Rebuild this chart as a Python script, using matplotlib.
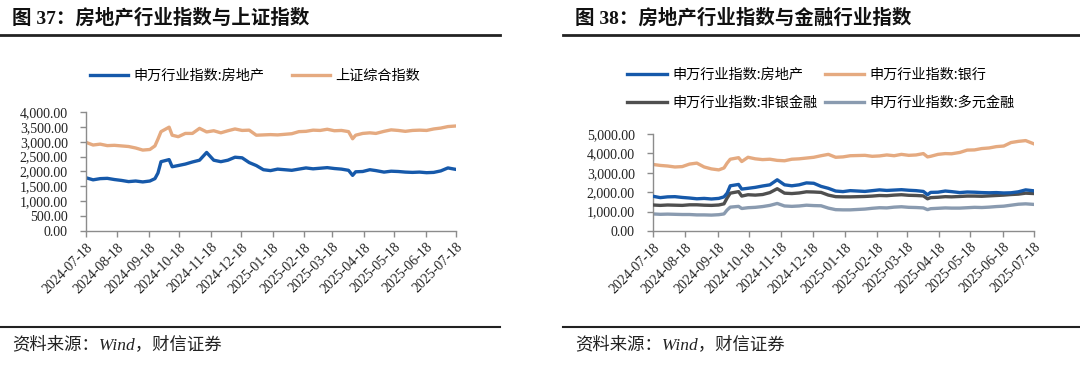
import matplotlib
matplotlib.use('Agg')
import matplotlib.pyplot as plt
import matplotlib.dates as mdates
import pandas as pd
from matplotlib.lines import Line2D
from matplotlib.ticker import FuncFormatter, MultipleLocator

plt.rcParams['font.family'] = ['Noto Sans CJK SC', 'DejaVu Sans']

dates = pd.to_datetime([
    '2024-07-18', '2024-07-25', '2024-08-01', '2024-08-08', '2024-08-15',
    '2024-08-22', '2024-08-29', '2024-09-05', '2024-09-12', '2024-09-19',
    '2024-09-24', '2024-09-27', '2024-09-30', '2024-10-08', '2024-10-11',
    '2024-10-17', '2024-10-24', '2024-10-31', '2024-11-07', '2024-11-14',
    '2024-11-21', '2024-11-28', '2024-12-05', '2024-12-12', '2024-12-19',
    '2024-12-26', '2025-01-02', '2025-01-09', '2025-01-16', '2025-01-23',
    '2025-02-06', '2025-02-13', '2025-02-20', '2025-02-27', '2025-03-06',
    '2025-03-13', '2025-03-20', '2025-03-27', '2025-04-03', '2025-04-07',
    '2025-04-10', '2025-04-17', '2025-04-24', '2025-04-30', '2025-05-08',
    '2025-05-15', '2025-05-22', '2025-05-29', '2025-06-05', '2025-06-12',
    '2025-06-19', '2025-06-26', '2025-07-03', '2025-07-10', '2025-07-18'])

real_estate = [1790, 1720, 1760, 1770, 1730, 1700, 1660, 1680, 1650, 1680,
               1760, 1950, 2330, 2400, 2160, 2200, 2250, 2320, 2380, 2640,
               2380, 2330, 2380, 2480, 2460, 2300, 2200, 2060, 2030, 2080,
               2040, 2080, 2120, 2090, 2110, 2130, 2100, 2080, 2040, 1870,
               1990, 2000, 2060, 2030, 1980, 2010, 2000, 1980, 1970, 1980,
               1960, 1970, 2020, 2120, 2070]
sh_composite = [2980, 2890, 2920, 2870, 2880, 2860, 2840, 2790, 2720, 2740,
                2860, 3090, 3340, 3490, 3220, 3170, 3280, 3280, 3450, 3330,
                3370, 3300, 3370, 3430, 3380, 3390, 3220, 3230, 3240, 3230,
                3270, 3340, 3350, 3390, 3380, 3420, 3370, 3380, 3340, 3100,
                3220, 3280, 3300, 3280, 3350, 3400, 3380, 3350, 3380, 3390,
                3380, 3430, 3460, 3510, 3530]
bank = [3430, 3380, 3350, 3300, 3320, 3450, 3500, 3300, 3200, 3150,
        3250, 3500, 3700, 3780, 3580, 3800, 3720, 3680, 3700, 3640,
        3620, 3700, 3720, 3760, 3800, 3880, 3950, 3800, 3820, 3880,
        3900, 3850, 3870, 3920, 3880, 3950, 3900, 3920, 3990, 3820,
        3850, 3950, 3990, 3980, 4050, 4170, 4180, 4250, 4280, 4350,
        4380, 4560, 4620, 4660, 4490]
non_bank = [1340, 1320, 1340, 1330, 1320, 1350, 1350, 1330, 1320, 1340,
            1400, 1700, 1950, 2030, 1800, 1870, 1850, 1880, 1980, 2180,
            1950, 1930, 1960, 2020, 2010, 1990, 1850, 1770, 1760, 1760,
            1780, 1800, 1830, 1820, 1850, 1870, 1840, 1830, 1810, 1660,
            1720, 1740, 1770, 1760, 1780, 1800, 1800, 1790, 1810, 1830,
            1850, 1880, 1900, 1950, 1930]
diversified = [880, 860, 870, 860, 850, 850, 830, 830, 820, 840,
               880, 1080, 1230, 1270, 1160, 1200, 1220, 1260, 1320, 1420,
               1290, 1270, 1290, 1330, 1310, 1300, 1180, 1100, 1090, 1090,
               1130, 1170, 1200, 1190, 1230, 1250, 1220, 1210, 1190, 1100,
               1150, 1170, 1190, 1180, 1180, 1200, 1220, 1210, 1230, 1260,
               1280, 1330, 1380, 1400, 1370]

tick_labels = ['2024-07-18', '2024-08-18', '2024-09-18', '2024-10-18',
               '2024-11-18', '2024-12-18', '2025-01-18', '2025-02-18',
               '2025-03-18', '2025-04-18', '2025-05-18', '2025-06-18',
               '2025-07-18']

BLUE = '#1659AA'
TAN = '#E5AA80'
DARK = '#4F4F4F'
GREYBLUE = '#8A9BB0'
AXIS = '#8C8C8C'
SERIF = ['Liberation Serif', 'Noto Sans CJK SC']

W, H = 1080, 368
fig = plt.figure(figsize=(W / 100, H / 100), dpi=100)


def fx(px):
    return px / W


def fy(py):
    return 1 - py / H


def style_axes(ax, ymax, ystep):
    ticks = pd.to_datetime(tick_labels)
    ax.set_xlim(ticks[0], ticks[-1])
    ax.set_xticks(ticks)
    ax.set_xticklabels(tick_labels, rotation=45, ha='right',
                       rotation_mode='anchor', family=SERIF, fontsize=10,
                       color='#222222')
    ax.set_ylim(0, ymax)
    ax.yaxis.set_major_locator(MultipleLocator(ystep))
    ax.yaxis.set_major_formatter(FuncFormatter(lambda v, p: f'{v:,.2f}'))
    for lab in ax.get_yticklabels():
        lab.set_family(SERIF)
        lab.set_fontsize(10)
        lab.set_color('#222222')
    for s in ['top', 'right']:
        ax.spines[s].set_visible(False)
    for s in ['left', 'bottom']:
        ax.spines[s].set_color(AXIS)
        ax.spines[s].set_linewidth(1.0)
    ax.tick_params(axis='both', direction='out', length=4, color=AXIS,
                   width=1.0)
    ax.tick_params(axis='y', pad=9)
    ax.tick_params(axis='x', pad=3)


# left panel
ax1 = fig.add_axes([fx(86), fy(231), fx(370), 119 / H])
l1, = ax1.plot(dates, real_estate, color=BLUE, lw=2.4)
l2, = ax1.plot(dates, sh_composite, color=TAN, lw=2.4)
style_axes(ax1, 4000, 500)
ax1.legend([l1, l2], ['申万行业指数:房地产', '上证综合指数'], ncol=2,
           loc='center left', bbox_to_anchor=(fx(90), fy(76)),
           bbox_transform=fig.transFigure, frameon=False, fontsize=10.2,
           handlelength=2.7, handletextpad=0.4, columnspacing=1.9,
           borderpad=0, borderaxespad=0)

# right panel
ax2 = fig.add_axes([fx(653), fy(231), fx(381), 97 / H])
r1, = ax2.plot(dates, real_estate, color=BLUE, lw=2.4, zorder=4)
r2, = ax2.plot(dates, bank, color=TAN, lw=2.4)
r3, = ax2.plot(dates, non_bank, color=DARK, lw=2.4, zorder=3)
r4, = ax2.plot(dates, diversified, color=GREYBLUE, lw=2.4)
style_axes(ax2, 5000, 1000)
ax2.legend([r1, r3, r2, r4],
           ['申万行业指数:房地产', '申万行业指数:非银金融',
            '申万行业指数:银行', '申万行业指数:多元金融'], ncol=2,
           loc='center left', bbox_to_anchor=(fx(627), fy(89)),
           bbox_transform=fig.transFigure, frameon=False, fontsize=10.2,
           handlelength=2.8, handletextpad=0.4, columnspacing=0.5,
           labelspacing=1.0, borderpad=0, borderaxespad=0)

# titles, rules and source notes
for x0, x1, title in [(0, 500, '图 37：房地产行业指数与上证指数'),
                      (563, 1080, '图 38：房地产行业指数与金融行业指数')]:
    fig.text(fx(x0 + 12), fy(18), title, fontsize=14, fontweight='bold',
             family=SERIF, va='center', ha='left', color='#111111')
    fig.add_artist(Line2D([fx(x0), fx(x1)], [fy(35), fy(35)],
                          color='#222222', lw=2.0))
    fig.add_artist(Line2D([fx(x0), fx(x1)], [fy(327), fy(327)],
                          color='#222222', lw=1.5))
    fig.text(fx(x0 + 12), fy(345), '资料来源：Wind，财信证券', fontsize=12.5,
             style='italic', family=SERIF, va='center', ha='left',
             color='#222222')

fig.savefig('out.png', dpi=100)
